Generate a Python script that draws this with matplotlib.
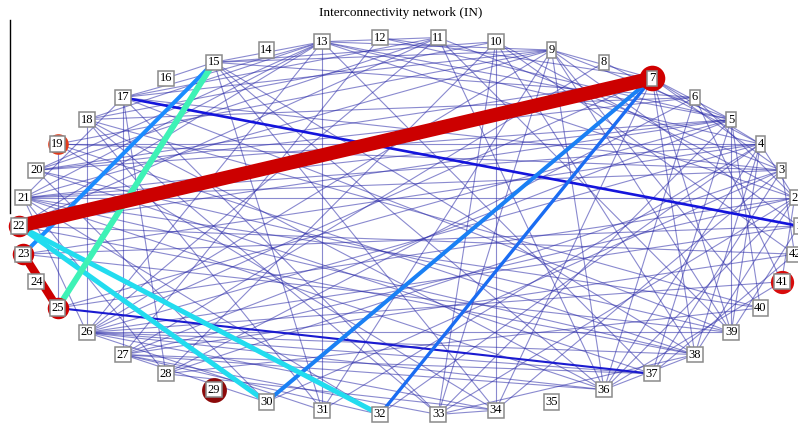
import numpy as np
import matplotlib
matplotlib.use('Agg')
import matplotlib.pyplot as plt
from matplotlib.lines import Line2D

# 42 nodes, numbered counter-clockwise starting at the right
n_nodes = 42
node_labels = [str(i) for i in range(1, n_nodes + 1)]

# thin network links (node numbers)
thin_edges = [
    (1, 23), (1, 26), (1, 39), (1, 9),
    (2, 21), (2, 13), (2, 10), (2, 4), (2, 6), (2, 27), (2, 38), (2, 36), (2, 33), (2, 41), (2, 25),
    (3, 19), (3, 21), (3, 17), (3, 11), (3, 42), (3, 37), (3, 34), (3, 28), (3, 7), (3, 30),
    (4, 19), (4, 21), (4, 13), (4, 8), (4, 36), (4, 38), (4, 31), (4, 26), (4, 7), (4, 39), (4, 23), (4, 32),
    (5, 20), (5, 13), (5, 21), (5, 12), (5, 9), (5, 39), (5, 37), (5, 33), (5, 27), (5, 40), (5, 7), (5, 25), (5, 22),
    (6, 18), (6, 20), (6, 15), (6, 41), (6, 36), (6, 28),
    (7, 9), (7, 38), (7, 39), (7, 34), (7, 20), (7, 26), (7, 12),
    (8, 27),
    (9, 17), (9, 19), (9, 21), (9, 36), (9, 33), (9, 26), (9, 39), (9, 31), (9, 15), (9, 13), (9, 40),
    (10, 18), (10, 15), (10, 28), (10, 33), (10, 38), (10, 42), (10, 34),
    (11, 13), (11, 17), (11, 26), (11, 22), (11, 20), (11, 36), (11, 39),
    (12, 27),
    (13, 31), (13, 17), (13, 18), (13, 15), (13, 37), (13, 26), (13, 22), (13, 20), (13, 21),
    (15, 16), (15, 36), (15, 31), (15, 38), (15, 34),
    (17, 27), (17, 28), (17, 33), (17, 39), (17, 21),
    (18, 26), (18, 36), (18, 33), (18, 40), (18, 31),
    (19, 25), (19, 38), (19, 34),
    (20, 39), (20, 37), (20, 30),
    (21, 38), (21, 36), (21, 26), (21, 28), (21, 40), (21, 32),
    (22, 42), (22, 38),
    (23, 39),
    (26, 41), (26, 39), (26, 38), (26, 37), (26, 36), (26, 34), (26, 31),
    (27, 42), (27, 37), (27, 33), (27, 30), (27, 36), (27, 32),
    (28, 40), (28, 34),
    (33, 38), (33, 34),
    (36, 41), (36, 38),
    (37, 42),
]

# strong links: (a, b, colour, width in points)
strong_edges = [
    (17, 1, '#1414dc', 1.9),
    (25, 37, '#1a1ad0', 1.5),
    (7, 32, '#1a6cf2', 2.4),
    (7, 30, '#1a80f4', 2.9),
    (15, 23, '#1a8cff', 2.9),
    (22, 30, '#22dcef', 3.6),
    (22, 32, '#22dcef', 3.6),
    (15, 25, '#3ef2b6', 4.3),
    (23, 25, '#cc0000', 5.8),
    (22, 7, '#cc0000', 10),
]

# highlighted nodes: node, colour, marker size
marked_nodes = [7, 19, 22, 23, 25, 29, 41]
marked_colors = ['#d00000', '#e23a1a', '#d00000', '#d00000', '#d00000', '#8c0a0a', '#d80c0c']
marked_sizes = [340, 220, 240, 240, 240, 320, 280]

fig = plt.figure(figsize=(7.98, 4.23), dpi=100)
ax = fig.add_axes([19 / 798, 1 - 415 / 423, 780 / 798, 378 / 423])
ax.set_xlim(-1, 1)
ax.set_ylim(-1, 1)
ax.axis('off')

ang = np.arange(n_nodes) * 2 * np.pi / n_nodes
xs = np.cos(ang)
ys = np.sin(ang)

for a, b in thin_edges:
    ax.plot([xs[a - 1], xs[b - 1]], [ys[a - 1], ys[b - 1]],
            color='#2a2aa8', alpha=0.55, lw=0.8, zorder=1, clip_on=False)

for a, b, c, w in strong_edges:
    ax.plot([xs[a - 1], xs[b - 1]], [ys[a - 1], ys[b - 1]],
            color=c, lw=w, zorder=2, solid_capstyle='butt', clip_on=False)

for k, c, s in zip(marked_nodes, marked_colors, marked_sizes):
    ax.scatter(xs[k - 1], ys[k - 1], s=s, color=c, zorder=3, clip_on=False, linewidths=0)

for i, lab in enumerate(node_labels):
    ax.text(xs[i], ys[i], lab, ha='center', va='center', fontsize=9,
            family='Liberation Serif', color='black', zorder=4, clip_on=False,
            bbox=dict(boxstyle='square,pad=0.13', fc='white', ec='#8a8a8a', lw=1.1))

fig.text(401 / 798, 1 - 13 / 423, 'Interconnectivity network (IN)', ha='center', va='center',
         fontsize=9.5, family='Liberation Serif')
fig.add_artist(Line2D([10 / 798, 10 / 798], [1 - 20 / 423, 1 - 213 / 423], color='black', lw=1))

fig.savefig('out.png', dpi=100)
